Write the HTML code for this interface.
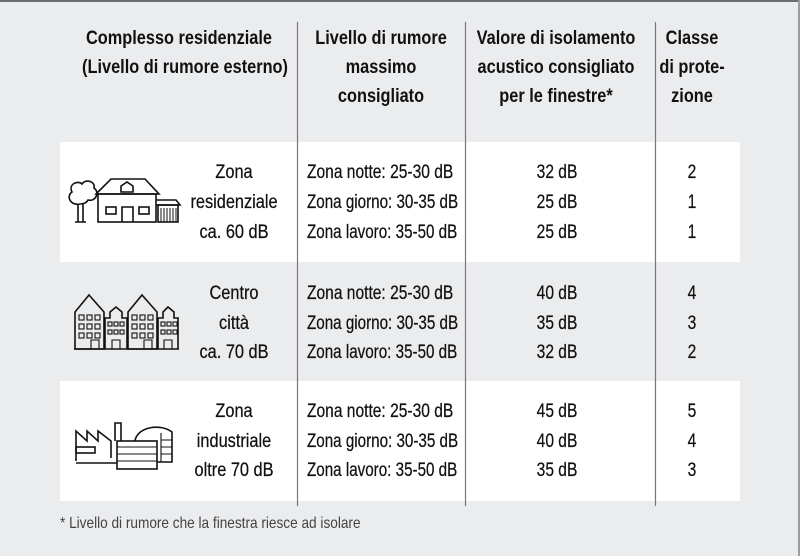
<!DOCTYPE html>
<html><head><meta charset="utf-8"><style>
html,body{margin:0;padding:0;background:#ebecee;}
svg{display:block}
text{font-family:"Liberation Sans",sans-serif;font-size:19px;fill:#111;stroke:#111;stroke-width:0.25;}
.h text{font-weight:bold;stroke-width:0;font-size:19px;}
.f{font-size:15.5px;fill:#444;stroke-width:0;}
.ic{fill:none;stroke:#111;stroke-width:1.6;}
</style></head><body>
<svg width="800" height="556" viewBox="0 0 800 556">
<rect x="0" y="0" width="800" height="556" fill="#ebecee"/>
<rect x="0" y="0" width="800" height="2" fill="#6b6e70"/>
<rect x="798" y="0" width="2" height="556" fill="#9a9da0"/>
<rect x="60" y="142" width="680" height="120" fill="#fff"/>
<rect x="60" y="381" width="680" height="120" fill="#fff"/>
<g stroke="#777" stroke-width="1.2">
<line x1="297.5" y1="22" x2="297.5" y2="506"/>
<line x1="465.5" y1="22" x2="465.5" y2="506"/>
<line x1="655.5" y1="22" x2="655.5" y2="506"/>
</g>
<g text-anchor="middle" class="h">
<text transform="translate(179,44) scale(0.86,1)">Complesso residenziale</text>
<text transform="translate(185,73) scale(0.86,1)">(Livello di rumore esterno)</text>
<text transform="translate(381,44) scale(0.86,1)">Livello di rumore</text>
<text transform="translate(381,73) scale(0.86,1)">massimo</text>
<text transform="translate(381,102) scale(0.86,1)">consigliato</text>
<text transform="translate(556,44) scale(0.86,1)">Valore di isolamento</text>
<text transform="translate(556,73) scale(0.86,1)">acustico consigliato</text>
<text transform="translate(556,102) scale(0.86,1)">per le finestre*</text>
<text transform="translate(692,44) scale(0.86,1)">Classe</text>
<text transform="translate(692,73) scale(0.86,1)">di prote-</text>
<text transform="translate(692,102) scale(0.86,1)">zione</text>
</g>
<g text-anchor="middle">
<text transform="translate(234,178) scale(0.86,1)">Zona</text>
<text transform="translate(234,208) scale(0.86,1)">residenziale</text>
<text transform="translate(234,238) scale(0.86,1)">ca. 60 dB</text>
<text transform="translate(234,299) scale(0.86,1)">Centro</text>
<text transform="translate(234,329) scale(0.86,1)">città</text>
<text transform="translate(234,358) scale(0.86,1)">ca. 70 dB</text>
<text transform="translate(234,417) scale(0.86,1)">Zona</text>
<text transform="translate(234,447) scale(0.86,1)">industriale</text>
<text transform="translate(234,476) scale(0.86,1)">oltre 70 dB</text>
</g>
<g>
<text transform="translate(307,178) scale(0.82,1)">Zona notte: 25-30 dB</text>
<text transform="translate(307,208) scale(0.80,1)">Zona giorno: 30-35 dB</text>
<text transform="translate(307,238) scale(0.80,1)">Zona lavoro: 35-50 dB</text>
<text transform="translate(307,299) scale(0.82,1)">Zona notte: 25-30 dB</text>
<text transform="translate(307,329) scale(0.80,1)">Zona giorno: 30-35 dB</text>
<text transform="translate(307,358) scale(0.80,1)">Zona lavoro: 35-50 dB</text>
<text transform="translate(307,417) scale(0.82,1)">Zona notte: 25-30 dB</text>
<text transform="translate(307,447) scale(0.80,1)">Zona giorno: 30-35 dB</text>
<text transform="translate(307,476) scale(0.80,1)">Zona lavoro: 35-50 dB</text>
</g>
<g text-anchor="middle">
<text transform="translate(557,178) scale(0.82,1)">32 dB</text><text transform="translate(557,208) scale(0.82,1)">25 dB</text><text transform="translate(557,238) scale(0.82,1)">25 dB</text>
<text transform="translate(557,299) scale(0.82,1)">40 dB</text><text transform="translate(557,329) scale(0.82,1)">35 dB</text><text transform="translate(557,358) scale(0.82,1)">32 dB</text>
<text transform="translate(557,417) scale(0.82,1)">45 dB</text><text transform="translate(557,447) scale(0.82,1)">40 dB</text><text transform="translate(557,476) scale(0.82,1)">35 dB</text>
<text transform="translate(692,178) scale(0.82,1)">2</text><text transform="translate(692,208) scale(0.82,1)">1</text><text transform="translate(692,238) scale(0.82,1)">1</text>
<text transform="translate(692,299) scale(0.82,1)">4</text><text transform="translate(692,329) scale(0.82,1)">3</text><text transform="translate(692,358) scale(0.82,1)">2</text>
<text transform="translate(692,417) scale(0.82,1)">5</text><text transform="translate(692,447) scale(0.82,1)">4</text><text transform="translate(692,476) scale(0.82,1)">3</text>
</g>
<text class="f" transform="translate(60,528) scale(0.88,1)">* Livello di rumore che la finestra riesce ad isolare</text>
<g class="ic">
<path d="M78 222 L78 204 M83 222 L83 204 M75 222 L86 222"/>
<path d="M80 204 C70 206 66 196 72 192 C68 184 78 180 82 184 C86 178 96 182 94 188 C100 192 96 202 88 200 C86 204 82 204 80 204Z"/>
<path d="M96 194 L111 179 L145 179 L159 194 Z"/>
<rect x="98" y="194" width="58" height="28"/>
<rect x="106" y="207" width="10" height="7"/><rect x="139" y="207" width="10" height="7"/>
<path d="M122 222 L122 207 L133 207 L133 222"/>
<path d="M121 192 L121 186 L127 182 L133 186 L133 192 Z"/>
<path d="M156 200 L176 200 L180 205 L156 205"/>
<rect x="158" y="205" width="20" height="17"/>
<path d="M161 208 V222 M164 208 V222 M167 208 V222 M170 208 V222 M173 208 V222 M176 208 V222" stroke-width="1"/>
</g>
<g class="ic">
<path d="M75 349 L75 312 L89 295 L104 312 L104 349 Z"/>
<path d="M105 349 L105 318 L110 318 L110 312 L116 307 L122 312 L122 318 L127 318 L127 349"/>
<path d="M128 349 L128 312 L142 295 L157 312 L157 349 Z"/>
<path d="M158 349 L158 318 L163 318 L163 312 L168 307 L174 312 L174 318 L178 318 L178 349"/>
<path d="M74 349 H179"/>
<g stroke-width="1.1">
<rect x="79" y="315" width="5" height="5"/><rect x="87" y="315" width="5" height="5"/><rect x="95" y="315" width="5" height="5"/>
<rect x="79" y="324" width="5" height="5"/><rect x="87" y="324" width="5" height="5"/><rect x="95" y="324" width="5" height="5"/>
<rect x="79" y="333" width="5" height="5"/><rect x="87" y="333" width="5" height="5"/><rect x="95" y="333" width="5" height="5"/>
<rect x="132" y="315" width="5" height="5"/><rect x="140" y="315" width="5" height="5"/><rect x="148" y="315" width="5" height="5"/>
<rect x="132" y="324" width="5" height="5"/><rect x="140" y="324" width="5" height="5"/><rect x="148" y="324" width="5" height="5"/>
<rect x="132" y="333" width="5" height="5"/><rect x="140" y="333" width="5" height="5"/><rect x="148" y="333" width="5" height="5"/>
<rect x="108" y="322" width="4" height="4"/><rect x="114" y="322" width="4" height="4"/><rect x="120" y="322" width="4" height="4"/>
<rect x="108" y="330" width="4" height="4"/><rect x="114" y="330" width="4" height="4"/><rect x="120" y="330" width="4" height="4"/>
<rect x="161" y="322" width="4" height="4"/><rect x="167" y="322" width="4" height="4"/><rect x="173" y="322" width="4" height="4"/>
<rect x="161" y="330" width="4" height="4"/><rect x="167" y="330" width="4" height="4"/><rect x="173" y="330" width="4" height="4"/>
<path d="M112 349 V340 H120 V349 M164 349 V340 H172 V349 M91 349 V340 H99 V349 M144 349 V340 H152 V349"/>
</g>
</g>
<g class="ic">
<path d="M76 461 L76 431 L87 441 L87 431 L98 441 L98 431 L111 441 L111 458"/>
<rect x="76" y="447" width="19" height="6"/>
<path d="M115 441 V423 H121 V441"/>
<path d="M135 441 C137 427 160 423 172 432 L172 462 L157 462"/>
<path d="M161 433 V462 M161 440 H172 M161 447 H172 M161 454 H172" stroke-width="1.1"/>
<rect x="117" y="441" width="40" height="28"/>
<path d="M117 447 H157 M117 454 H157 M117 461 H157" stroke-width="1.1"/>
<path d="M76 463 H117"/>
</g>
</svg>
</body></html>
